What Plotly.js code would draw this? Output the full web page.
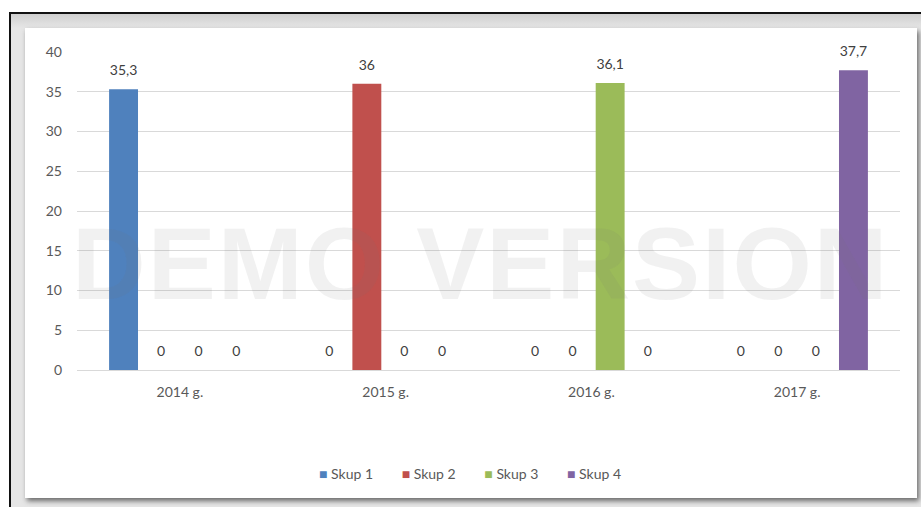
<!DOCTYPE html>
<html><head><meta charset="utf-8">
<script src="https://cdn.plot.ly/plotly-3.0.1.min.js"></script>
<style>
html,body{margin:0;padding:0;background:#fff;width:921px;height:507px;overflow:hidden;}
#frame{position:absolute;left:9px;top:12px;width:920px;height:500px;border-left:2px solid #111;border-top:2px solid #111;background:linear-gradient(#cfcfcf,#e6e6e6 14px,#e6e6e6);}
#chart{position:absolute;left:14px;top:14px;width:892px;height:470px;background:#fff;box-shadow:2px 3px 5px #6a6a6a;}
</style></head>
<body>
<div id="frame"><div id="chart"></div></div>
<script>
const categories = ['2014 g.', '2015 g.', '2016 g.', '2017 g.'];
const seriesNames = ['Skup 1', 'Skup 2', 'Skup 3', 'Skup 4'];
const skup1 = [35.3, 0, 0, 0];
const skup2 = [0, 36, 0, 0];
const skup3 = [0, 0, 36.1, 0];
const skup4 = [0, 0, 0, 37.7];
const colors = ['#4F81BD', '#C0504D', '#9BBB59', '#8064A2'];
const yTicks = [0, 5, 10, 15, 20, 25, 30, 35, 40];
const watermark = 'DEMO VERSION';

const fontFam = 'Lato, "Open Sans", sans-serif';
const series = [skup1, skup2, skup3, skup4];
const barTraces = series.map((vals, i) => ({
  type: 'bar', name: seriesNames[i], x: categories, y: vals,
  marker: {color: colors[i], line: {width: 0}},
  showlegend: false, hoverinfo: 'none'
}));
// transparent twin bars on a slightly shifted axis, carrying the value labels
const labelTraces = series.map((vals, i) => ({
  type: 'bar', name: seriesNames[i] + ' labels', x: categories, y: vals, yaxis: 'y2',
  marker: {color: 'rgba(0,0,0,0)', line: {width: 0}},
  text: vals.map(v => String(v).replace('.', ',')),
  textposition: 'outside', cliponaxis: false,
  textfont: {family: fontFam, size: 14, color: '#404040'},
  showlegend: false, hoverinfo: 'none'
}));

const legendText = seriesNames.map((n, i) =>
  '<span style="color:' + colors[i] + ';font-size:14px">■</span> ' + n).join('&nbsp;&nbsp;&nbsp;&nbsp;&nbsp;&nbsp;&nbsp;&nbsp;');

const layout = {
  width: 892, height: 470,
  margin: {l: 52, r: 17, t: 24, b: 128},
  paper_bgcolor: 'rgba(0,0,0,0)', plot_bgcolor: 'rgba(0,0,0,0)',
  barmode: 'group', bargap: 0.27, bargroupgap: 0.23,
  separators: ', ',
  font: {family: fontFam, size: 13, color: '#595959'},
  xaxis: {type: 'category', showgrid: false, showline: false, ticks: '', ticklabelstandoff: 12,
          tickfont: {family: fontFam, size: 14, color: '#595959'}},
  yaxis: {range: [0, 40], tickvals: yTicks, showgrid: true, gridcolor: '#d9d9d9', gridwidth: 1,
          zeroline: true, zerolinecolor: '#d9d9d9', zerolinewidth: 1, showline: false, ticks: '',
          ticklabelstandoff: 14, tickfont: {family: fontFam, size: 14, color: '#595959'}},
  yaxis2: {overlaying: 'y', range: [-1.0, 39.0], visible: false, showgrid: false, zeroline: false},
  showlegend: false,
  annotations: [{
    text: '<b><span style="letter-spacing:2px">' + watermark + '</span></b>', xref: 'paper', yref: 'paper', x: 0.49, y: 0.333,
    xanchor: 'center', yanchor: 'middle', showarrow: false,
    font: {family: '"Liberation Sans", Arial, sans-serif', size: 102, color: 'rgba(120,120,120,0.1)'}
  }, {
    text: legendText, xref: 'paper', yref: 'paper', x: 0.4775, y: -0.327,
    xanchor: 'center', yanchor: 'middle', showarrow: false,
    font: {family: fontFam, size: 14, color: '#595959'}
  }]
};
Plotly.newPlot('chart', barTraces.concat(labelTraces), layout, {displayModeBar: false, staticPlot: true});
</script>
</body></html>
